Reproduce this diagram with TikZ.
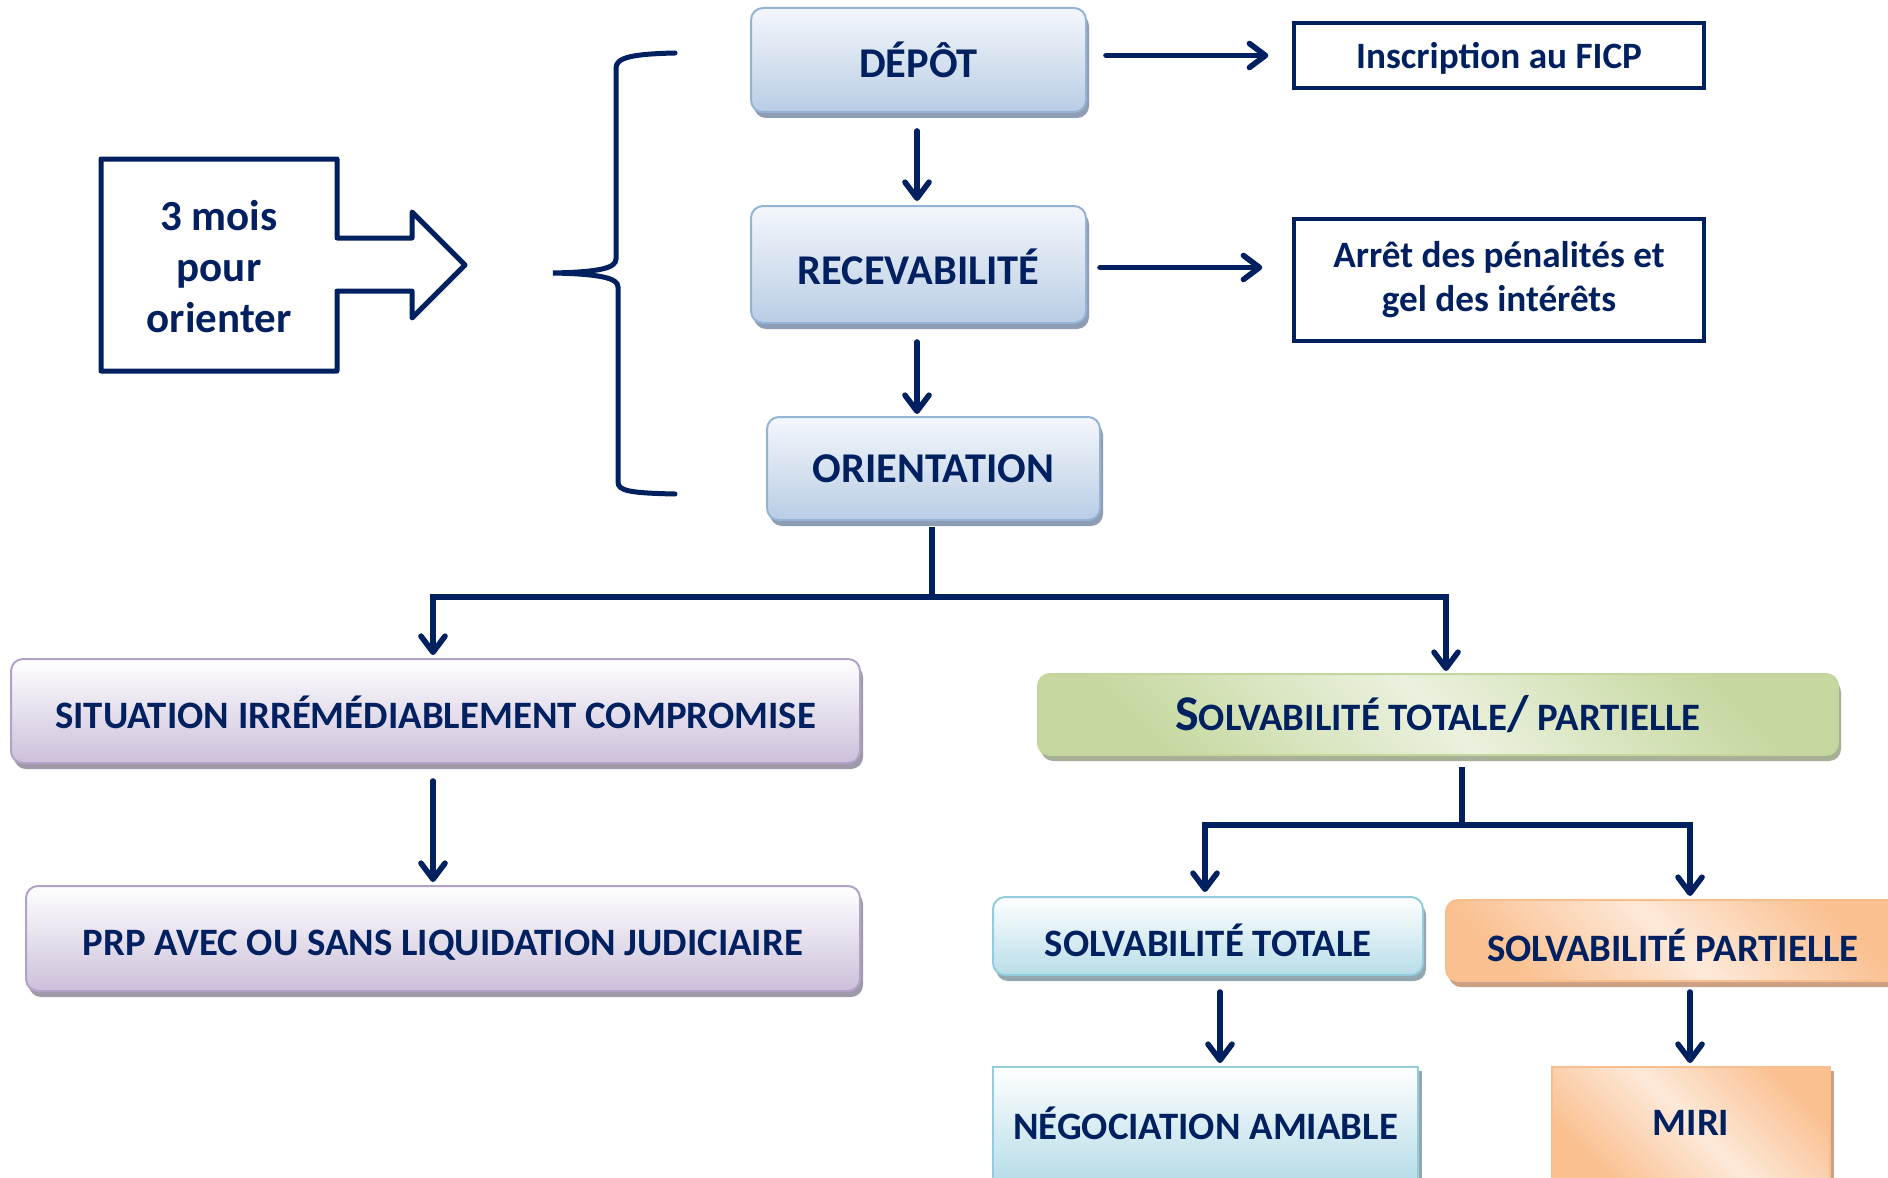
\documentclass[tikz,border=0pt]{standalone}
\usepackage{fontspec}
\setmainfont{Carlito}
\usetikzlibrary{arrows.meta,shadows,calc}
\definecolor{navy}{HTML}{002060}
\definecolor{bborder}{HTML}{95B3D7}
\definecolor{bfill}{HTML}{B9CDE5}
\definecolor{btop}{HTML}{F4F7FB}
\definecolor{bshadow}{HTML}{8D9DB3}
\definecolor{pborder}{HTML}{B3A2C7}
\definecolor{pfill}{HTML}{CCC0DA}
\definecolor{pshadow}{HTML}{A09AA8}
\definecolor{gborder}{HTML}{C3D69B}
\definecolor{gdark}{HTML}{C6D8A0}
\definecolor{glight}{HTML}{EBF1DE}
\definecolor{gshadow}{HTML}{A7AF97}
\definecolor{cborder}{HTML}{93CDDD}
\definecolor{cfill}{HTML}{B7DDE8}
\definecolor{cshadow}{HTML}{93A8AE}
\definecolor{oborder}{HTML}{F9BE8E}
\definecolor{odark}{HTML}{FAC090}
\definecolor{olight}{HTML}{FDE9D9}
\definecolor{oshadow}{HTML}{CBA085}
\begin{document}
\begin{tikzpicture}[x=0.5pt,y=-0.5pt,
  arr/.style={line width=2.8pt, draw=navy, line cap=round, -{Straight Barb[length=8pt,width=12pt,line cap=round,line join=round]}},
  link/.style={line width=2.8pt, draw=navy},
  rbox/.style={rounded corners=6pt, line width=1pt, inner sep=0pt, text=navy, align=center, font=\bfseries\fontsize{19.4}{23}\selectfont},
  shad/.style={drop shadow={shadow xshift=1.5pt, shadow yshift=-3pt, fill=#1, opacity=1}},
  bluebox/.style={rbox, draw=bborder, top color=btop, bottom color=bfill, shad=bshadow, font=\bfseries\fontsize{21.2}{25}\selectfont},
  purplebox/.style={rbox, draw=pborder, top color=white, bottom color=pfill, shad=pshadow},
  cyanbox/.style={rbox, draw=cborder, top color=white, bottom color=cfill, shad=cshadow},
  greenbox/.style={rbox, draw=gborder, top color=gdark, bottom color=gdark, middle color=glight, shading angle=-45, shad=gshadow},
  orangebox/.style={rbox, draw=oborder, top color=odark, bottom color=odark, middle color=olight, shading angle=-45, shad=oshadow},
  framebox/.style={draw=navy, line width=1.75pt, inner sep=0pt, text=navy, align=center, font=\bfseries\fontsize{18.6}{22}\selectfont},
]
\useasboundingbox (0,0) rectangle (1888,1177);
\fill[white] (0,0) rectangle (1888,1177);
\clip (0,0) rectangle (1888,1177);

% top column
\node[bluebox, minimum width=167.5pt, minimum height=52pt] (depot) at (918.5,60) {DÉPÔT};
\node[bluebox, minimum width=167.5pt, minimum height=58.5pt, text height=20.5pt] (recev) at (918.5,264.5) {RECEVABILITÉ};
\node[bluebox, minimum width=166.5pt, minimum height=51.5pt] (orient) at (933.5,468.5) {ORIENTATION};
\node[framebox, minimum width=205pt, minimum height=32.5pt, text height=16.4pt] (inscr) at (1499,55.5) {Inscription au FICP};
\node[framebox, minimum width=205pt, minimum height=61pt] (arret) at (1499,280) {Arrêt des pénalités et\\gel des intérêts};

% left branch
\node[purplebox, minimum width=424.5pt, minimum height=52pt, text height=18pt] (situation) at (435.5,711) {SITUATION IRRÉMÉDIABLEMENT COMPROMISE};
\node[purplebox, minimum width=417pt, minimum height=52.5pt, text height=19pt] (prp) at (443,938.5) {PRP AVEC OU SANS LIQUIDATION JUDICIAIRE};

% right branch
\node[greenbox, minimum width=400pt, minimum height=40.5pt] (solvtp) at (1438,714.5)
  {{\fontsize{25}{28}\selectfont S}{\fontsize{19.4}{23}\selectfont OLVABILITÉ TOTALE}{\fontsize{25}{28}\selectfont/} {\fontsize{19.4}{23}\selectfont PARTIELLE}};
\node[cyanbox, minimum width=215pt, minimum height=39pt, text height=21pt] (solvt) at (1208,936) {SOLVABILITÉ TOTALE};
\node[orangebox, minimum width=227pt, minimum height=40.5pt, text height=21pt] (solvp) at (1673,940.5) {SOLVABILITÉ PARTIELLE};
\node[cyanbox, sharp corners, drop shadow={shadow xshift=2pt, shadow yshift=-2pt, fill=cshadow, opacity=1}, minimum width=212.5pt, minimum height=56pt] (neg) at (1205.5,1123) {NÉGOCIATION AMIABLE};
\node[orangebox, sharp corners, drop shadow={shadow xshift=2pt, shadow yshift=-2pt, fill=oshadow, opacity=1}, minimum width=139pt, minimum height=56pt] (miri) at (1691,1123) {MIRI};

% 3 mois
\node[text=navy, align=center, font=\bfseries\fontsize{21.5}{25.5}\selectfont] (mois) at (219,267) {3 mois\\pour\\orienter};
\draw[navy, line width=2.5pt, line join=round]
  (101,159) -- (337,159) -- (337,238) -- (412,238) -- (412,212) -- (465,265)
  -- (412,318) -- (412,291) -- (337,291) -- (337,371) -- (101,371) -- cycle;

% brace
\draw[navy, line width=2.5pt, line cap=round]
  (675,53) .. controls (630,54) and (616,58) .. (616,68) -- (616,259)
  .. controls (616,268) and (600,272) .. (553,273)
  .. controls (600,274) and (618,278) .. (618,287) -- (618,482)
  .. controls (618,491) and (630,493) .. (675,494);

% connectors
\draw[arr] ($(depot.east|-inscr.west)+(19,0)$) -- ($(inscr.west)+(-24,0)$);
\draw[arr] ($(recev.east)+(13,3)$) -- ($(recev.east -| arret.west)+(-30,3)$);
\draw[arr] ($(depot.south)+(-1.5,18)$) -- ($(recev.north)+(-1.5,-4)$);
\draw[arr] ($(recev.south)+(-1.5,18)$) -- ($(recev.south |- orient.north)+(-1.5,-2)$);

\coordinate (split1) at (932,597);
\draw[link] ($(orient.south)+(-1.5,6)$) -- (split1);
\draw[arr] (split1) -| ($(situation.north)+(-2.5,-3)$);
\draw[arr] (split1) -| ($(solvtp.north)+(8,-2)$);
\draw[arr] ($(situation.south)+(-2.5,17)$) -- ($(situation.south |- prp.north)+(-2.5,-3)$);

\coordinate (split2) at (1462,825);
\draw[link] ($(solvtp.south)+(24,11)$) -- (split2);
\draw[arr] (split2) -| ($(solvt.north)+(-3,-4)$);
\draw[arr] (split2) -| ($(solvp.north)+(17,-3)$);
\draw[arr] ($(solvt.south)+(12,16)$) -- ($(solvt.south |- neg.north)+(12,-3)$);
\draw[arr] ($(solvp.south)+(17,10)$) -- ($(solvp.south |- miri.north)+(17,-3)$);
\end{tikzpicture}
\end{document}
